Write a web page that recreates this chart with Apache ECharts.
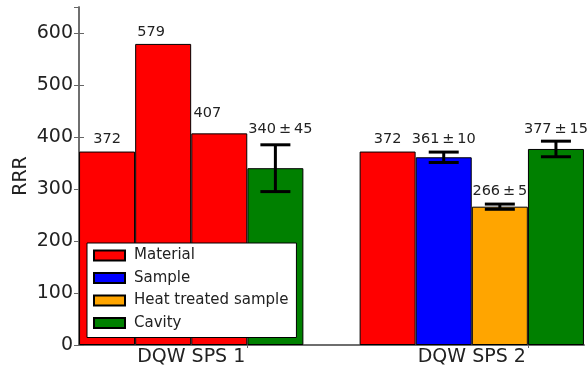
<!DOCTYPE html>
<html>
<head>
<meta charset="utf-8">
<script src="https://cdn.jsdelivr.net/npm/echarts@6/dist/echarts.min.js"></script>
<style>
html,body{margin:0;padding:0;background:#fff;}
#chart{width:588px;height:372px;}
</style>
</head>
<body>
<div id="chart"></div>
<script>
const categories = ['DQW SPS 1', 'DQW SPS 2'];
const seriesNames = ['Material', 'Sample', 'Heat treated sample', 'Cavity'];
// one entry per bar
const barGroup = [0, 0, 0, 0, 1, 1, 1, 1];
const barSlot = [0, 1, 2, 3, 0, 1, 2, 3];
const barSeries = [0, 0, 0, 3, 0, 1, 2, 3];
const barValue = [372, 579, 407, 340, 372, 361, 266, 377];
const barError = [0, 0, 0, 45, 0, 10, 5, 15];
const yTicks = [0, 100, 200, 300, 400, 500, 600];

// styles
const seriesColors = ['#ff0000', '#0000ff', '#ffa500', '#008000'];
const labelDx = [0, -12, -12, 5, 0, 0, 0, 0];
const labelDy = [-12, -11.5, -20.5, -16, -12, -12.5, -13, -12];
const FONT = 'DejaVu Sans';
const AXIS_COLOR = '#666';
const TEXT_COLOR = '#222';

const slotsPerGroup = 5; // 4 bars + 1 empty gap slot
const xMax = categories.length * slotsPerGroup - 1;
const barX = i => barGroup[i] * slotsPerGroup + barSlot[i] + 0.5;
const groupCenter = g => g * slotsPerGroup + 2;

const barSeriesList = seriesNames.map((name, s) => ({
  type: 'bar',
  name: name,
  barWidth: 56,
  barGap: '-100%',
  itemStyle: { color: seriesColors[s], borderColor: '#000', borderWidth: 1 },
  data: barValue.map((v, i) => barSeries[i] === s ? [barX(i), v] : null).filter(d => d),
  z: 2
}));

const errData = [];
barValue.forEach((v, i) => { if (barError[i]) errData.push([barX(i), v - barError[i], v + barError[i]]); });

const labelData = barValue.map((v, i) => [barX(i), v + barError[i], i]);

const yLabelFmt = v => (yTicks.indexOf(v) >= 0 ? String(v) : '');

const chart = echarts.init(document.getElementById('chart'), null, { renderer: 'canvas' });
chart.setOption({
  animation: false,
  grid: { left: 79, right: 4, top: 7, bottom: 27 },
  legend: {
    data: seriesNames,
    orient: 'vertical',
    left: 87, top: 243,
    itemWidth: 31, itemHeight: 10, itemGap: 7.5,
    padding: [5, 8, 7, 6],
    backgroundColor: '#fff', borderColor: '#000', borderWidth: 1, borderRadius: 0,
    icon: 'rect',
    textStyle: { fontSize: 15, color: TEXT_COLOR, fontFamily: FONT, padding: [0, 0, 0, 4] },
    z: 10
  },
  xAxis: [{
    type: 'value', min: 0, max: xMax, position: 'bottom',
    axisLine: { show: true, lineStyle: { color: AXIS_COLOR, width: 1.5 } },
    axisTick: { show: false },
    splitLine: { show: false },
    axisLabel: {
      customValues: categories.map((c, g) => groupCenter(g)),
      formatter: v => categories[Math.round((v - 2) / slotsPerGroup)] || '',
      fontSize: 19, color: TEXT_COLOR, fontFamily: FONT, margin: 3
    }
  }, {
    type: 'value', min: 0, max: xMax, position: 'top',
    axisLine: { show: true, lineStyle: { color: AXIS_COLOR, width: 1.5 } },
    axisTick: { show: true, inside: true, length: 3, lineStyle: { color: AXIS_COLOR }, customValues: categories.map((c, g) => groupCenter(g) + 1) },
    axisLabel: { show: false },
    splitLine: { show: false }
  }],
  yAxis: [{
    type: 'value', min: 0, max: 650, interval: 100, position: 'left',
    name: 'RRR', nameLocation: 'middle', nameGap: 48, nameMoveOverlap: false,
    nameTextStyle: { fontSize: 19, color: TEXT_COLOR, fontFamily: FONT },
    axisLine: { show: true, lineStyle: { color: AXIS_COLOR, width: 1.5 } },
    axisTick: { show: true, inside: true, length: 5, lineStyle: { color: AXIS_COLOR } },
    axisLabel: { formatter: yLabelFmt, showMaxLabel: false, fontSize: 19, color: TEXT_COLOR, fontFamily: FONT, margin: 6 },
    splitLine: { show: false }
  }, {
    type: 'value', min: 0, max: 650, interval: 100, position: 'right',
    axisLine: { show: true, lineStyle: { color: AXIS_COLOR, width: 1.5 } },
    axisTick: { show: true, inside: true, length: 5, lineStyle: { color: AXIS_COLOR } },
    axisLabel: { show: false },
    splitLine: { show: false }
  }],
  series: barSeriesList.concat([{
    type: 'custom',
    name: 'err',
    z: 3,
    silent: true,
    data: errData,
    renderItem: (params, api) => {
      const x = api.value(0);
      const lo = api.coord([x, api.value(1)]);
      const hi = api.coord([x, api.value(2)]);
      const hw = 15;
      const st = { stroke: '#000', lineWidth: 3 };
      return {
        type: 'group',
        children: [
          { type: 'line', shape: { x1: lo[0], y1: lo[1], x2: hi[0], y2: hi[1] }, style: st },
          { type: 'line', shape: { x1: hi[0] - hw, y1: hi[1], x2: hi[0] + hw, y2: hi[1] }, style: st },
          { type: 'line', shape: { x1: lo[0] - hw, y1: lo[1], x2: lo[0] + hw, y2: lo[1] }, style: st }
        ]
      };
    }
  }, {
    type: 'custom',
    name: 'labels',
    z: 3,
    silent: true,
    clip: false,
    data: labelData,
    renderItem: (params, api) => {
      const i = api.value(2);
      const p = api.coord([api.value(0), api.value(1)]);
      const txt = barError[i] ? (barValue[i] + '\u2009±\u2009' + barError[i]) : String(barValue[i]);
      return {
        type: 'text',
        x: p[0] + labelDx[i],
        y: p[1] + labelDy[i],
        style: { text: txt, fill: TEXT_COLOR, font: '14.5px "DejaVu Sans"', align: 'center', verticalAlign: 'middle' }
      };
    }
  }])
});
</script>
</body>
</html>
